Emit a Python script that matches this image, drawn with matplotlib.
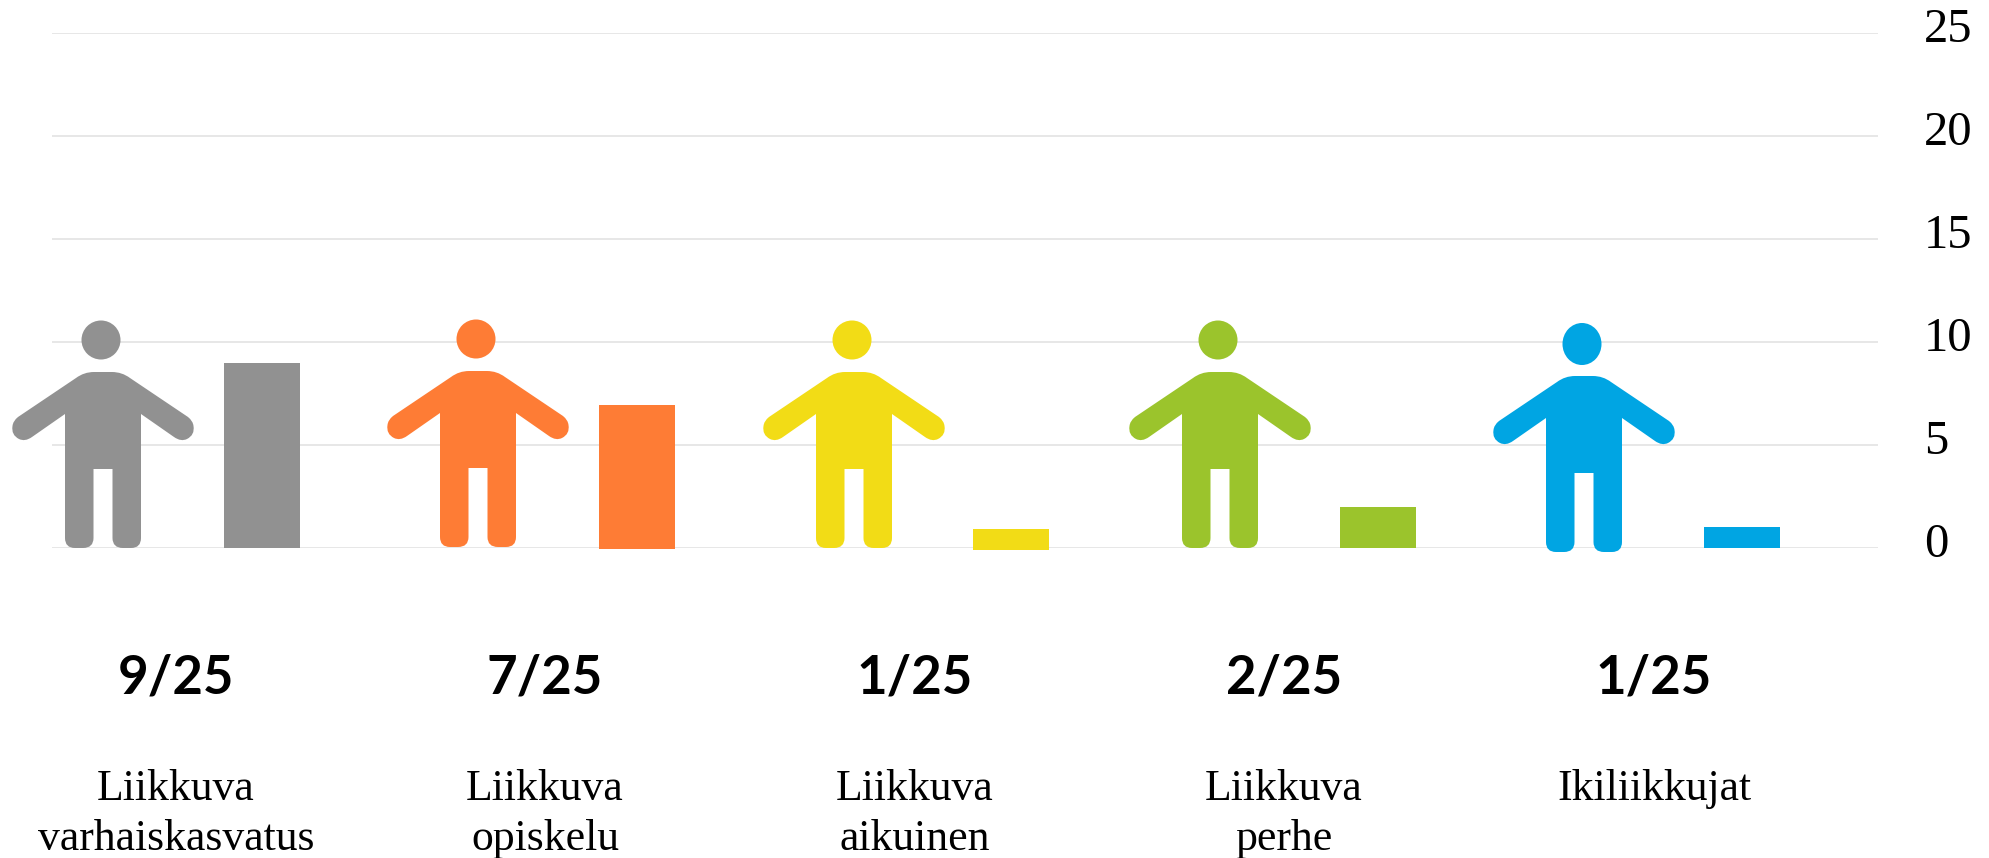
"""Pictogram bar chart: share of 25 per programme."""

import matplotlib

matplotlib.use("Agg")

import matplotlib.pyplot as plt
from matplotlib.patches import Ellipse, PathPatch
from matplotlib.path import Path
from matplotlib.transforms import Affine2D, ScaledTranslation

FIG_W, FIG_H = 1989, 858

names = ["Liikkuva\nvarhaiskasvatus", "Liikkuva\nopiskelu", "Liikkuva\naikuinen", "Liikkuva\nperhe", "Ikiliikkujat"]
counts = [9, 7, 1, 2, 1]
total = 25
y_ticks = [0, 5, 10, 15, 20, 25]

colors = ["#919191", "#FE7C35", "#F2DC16", "#9BC42C", "#00A5E3"]

# layout, in reference pixels
bar_centers = [262, 637, 1011, 1378, 1742]
bar_bottoms = [0, -0.05, -0.1, 0, 0]
bar_width = 76
person_x = [103, 478, 854, 1220, 1584]
person_foot = [548, 547, 548, 548, 552]
head_heights = [39, 39, 39, 39, 42]
text_x = [176, 545, 915, 1284, 1654]

# left half of the figure, from the foot up to the top of the shoulders
START = (-38, 10)
LEFT_SIDE = [
    ("L", (-38, 134)),
    ("L", (-71, 111)),
    ("Q", (-78, 106), (-84, 109)),
    ("Q", (-92, 113), (-90.5, 122)),
    ("Q", (-90, 127), (-85, 131)),
    ("L", (-27, 170)),
    ("Q", (-19, 176), (-9, 176)),
]
LEGS = [
    ("Q", (38, 0), (28, 0)),
    ("L", (20, 0)),
    ("Q", (9.5, 0), (9.5, 10)),
    ("L", (9.5, 79)),
    ("L", (-9.5, 79)),
    ("L", (-9.5, 10)),
    ("Q", (-9.5, 0), (-20, 0)),
    ("L", (-28, 0)),
    ("Q", (-38, 0), (-38, 10)),
]


def add_segment(codes, verts, seg):
    if seg[0] == "L":
        codes.append(Path.LINETO)
        verts.append(seg[1])
    else:
        codes += [Path.CURVE3, Path.CURVE3]
        verts += [seg[1], seg[2]]


def person_path() -> Path:
    codes = [Path.MOVETO]
    verts = [START]
    for seg in LEFT_SIDE:
        add_segment(codes, verts, seg)

    # right side: same segments mirrored and walked backwards
    ends = [START] + [seg[-1] for seg in LEFT_SIDE]
    codes.append(Path.LINETO)
    verts.append((-ends[-1][0], ends[-1][1]))
    for i in range(len(LEFT_SIDE) - 1, -1, -1):
        seg = LEFT_SIDE[i]
        target = (-ends[i][0], ends[i][1])
        if seg[0] == "L":
            add_segment(codes, verts, ("L", target))
        else:
            add_segment(codes, verts, ("Q", (-seg[1][0], seg[1][1]), target))

    for seg in LEGS:
        add_segment(codes, verts, seg)
    codes.append(Path.CLOSEPOLY)
    verts.append(START)
    return Path(verts, codes)


fig = plt.figure(figsize=(FIG_W / 100, FIG_H / 100), dpi=100, facecolor="white")

# axes box taken from the gridlines: y=0 at 548 px, y=25 at 33 px, from the top
ax = fig.add_axes([52 / FIG_W, 1 - 548 / FIG_H, (1878 - 52) / FIG_W, (548 - 33) / FIG_H])
ax.set_xlim(52, 1878)
ax.set_ylim(0, 25)
ax.set_facecolor("none")
for spine in ax.spines.values():
    spine.set_visible(False)
ax.set_xticks([])
ax.set_yticks(y_ticks)
ax.yaxis.tick_right()
ax.grid(axis="y", color="#E3E3E3", linewidth=1.2)
ax.set_axisbelow(True)
ax.tick_params(axis="y", length=0, pad=33, labelsize=35, labelcolor="black")
shift = ScaledTranslation(0, 5.5 / 72, fig.dpi_scale_trans)
for tick_label in ax.get_yticklabels():
    tick_label.set_fontfamily("Liberation Serif")
    tick_label.set_transform(tick_label.get_transform() + shift)

ax.bar(bar_centers, counts, width=bar_width, bottom=bar_bottoms, color=colors, clip_on=False, zorder=2)

# pixel transform with the origin at the top left, like the reference
to_px = Affine2D().scale(1, -1).translate(0, FIG_H)
body = person_path()
for px, foot, head_h, color in zip(person_x, person_foot, head_heights, colors):
    trans = Affine2D().scale(1, -1).translate(px, foot) + to_px
    fig.add_artist(PathPatch(body, facecolor=color, edgecolor="none", transform=trans, zorder=3))
    head = Ellipse((px - 2, foot - 208), 39, head_h, facecolor=color, edgecolor="none", transform=to_px, zorder=3)
    fig.add_artist(head)

for x, name, count in zip(text_x, names, counts):
    fig.text(
        x / FIG_W,
        1 - 678 / FIG_H,
        f"{count}/{total}",
        ha="center",
        va="center",
        fontsize=38,
        fontweight="bold",
        family="Lato",
        color="black",
    )
    fig.text(
        x / FIG_W,
        1 - 769 / FIG_H,
        name,
        ha="center",
        va="top",
        fontsize=31.5,
        family="Liberation Serif",
        color="black",
        linespacing=1.33,
    )

fig.savefig("out.png", dpi=100)
